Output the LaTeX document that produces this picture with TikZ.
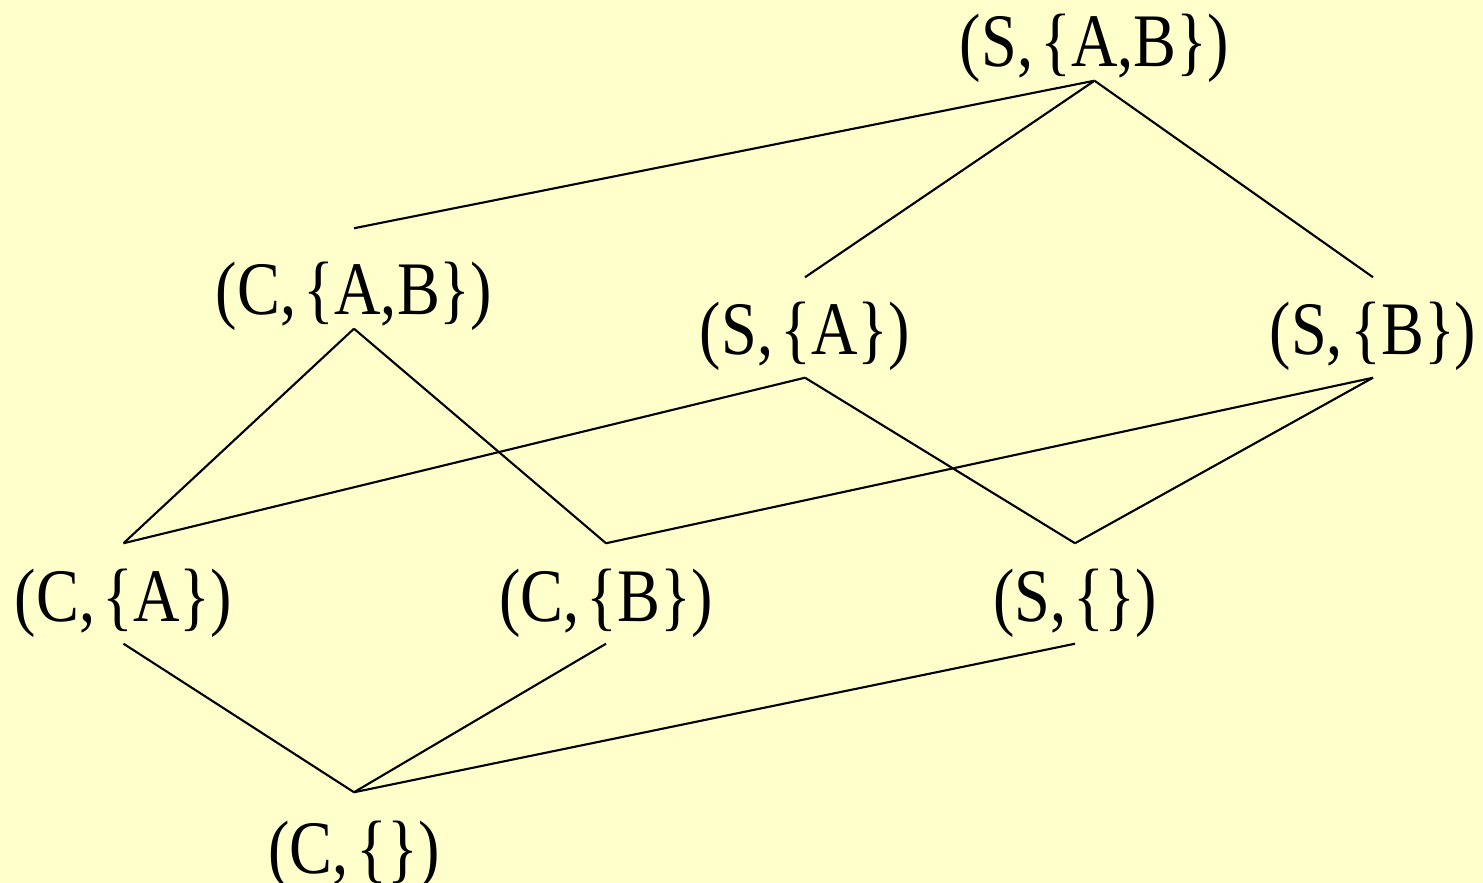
\documentclass[tikz,border=0pt]{standalone}
\usepackage{fontspec}
\setmainfont{Liberation Serif}[FakeStretch=0.85]
\usepackage{tikz}
\definecolor{paleyellow}{HTML}{FFFFCC}
\newcommand{\pset}[1]{\kern0.1em\{#1\}}

\begin{document}
\begin{tikzpicture}[x=0.01cm,y=-0.01cm,
    elem/.style={anchor=base, inner sep=0pt, text height=0.77cm, text depth=0.22cm,
      font=\fontsize{21.5}{26}\selectfont},
    link/.style={line width=0.6pt}]
  % Background
  \fill[paleyellow] (0,0) rectangle (1483,883);
  \useasboundingbox (0,0) rectangle (1483,883);

  % Top element
  \node[elem, text depth=0.13cm] (sab) at (1094.5,67) {(S,\pset{A,B})};

  % Second level
  \node[elem, text height=0.86cm, text depth=0.13cm] (cab) at (354,315) {(C,\pset{A,B})};
  \node[elem] (sa) at (805,355) {(S,\pset{A})};
  \node[elem] (sb) at (1373,355) {(S,\pset{B})};

  % Third level
  \node[elem] (ca) at (123.5,621) {(C,\pset{A})};
  \node[elem] (cb) at (606,621) {(C,\pset{B})};
  \node[elem] (se) at (1075,621) {(S,\pset{})};

  % Bottom element
  \node[elem, text height=0.80cm] (ce) at (354,873) {(C,\pset{})};

  % Order relations
  \draw[link] (sab.south) -- (cab.north);
  \draw[link] (sab.south) -- (sa.north);
  \draw[link] (sab.south) -- (sb.north);
  \draw[link] (cab.south) -- (ca.north);
  \draw[link] (cab.south) -- (cb.north);
  \draw[link] (sa.south) -- (ca.north);
  \draw[link] (sa.south) -- (se.north);
  \draw[link] (sb.south) -- (cb.north);
  \draw[link] (sb.south) -- (se.north);
  \draw[link] (ca.south) -- (ce.north);
  \draw[link] (cb.south) -- (ce.north);
  \draw[link] (se.south) -- (ce.north);
\end{tikzpicture}
\end{document}
